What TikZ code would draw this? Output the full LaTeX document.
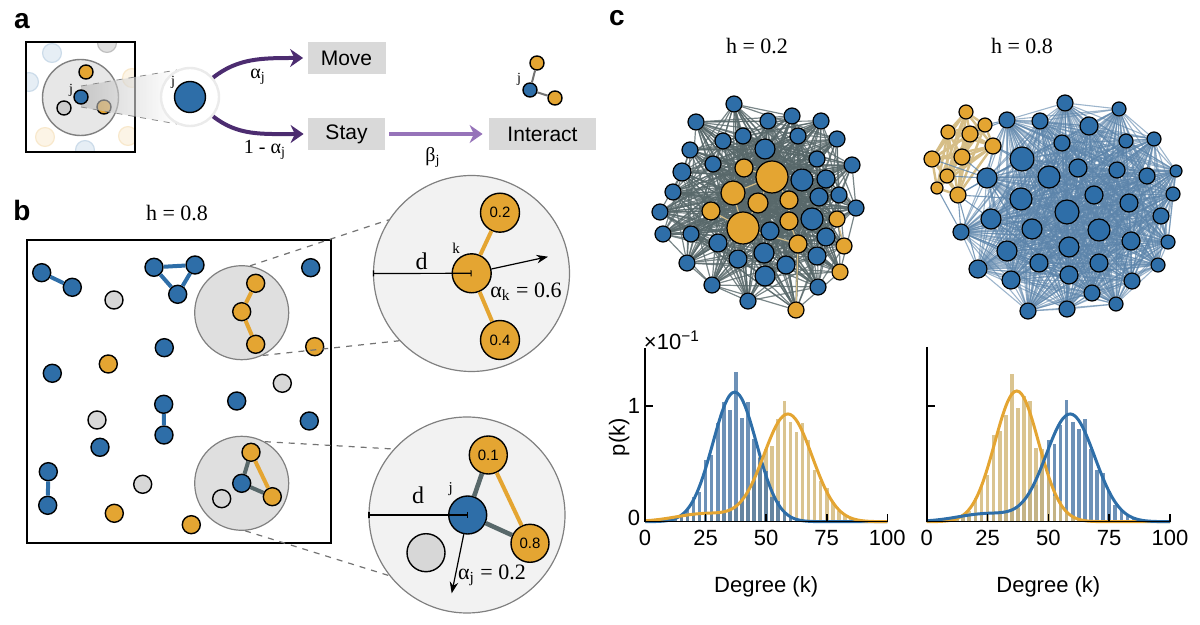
\documentclass[tikz,border=0pt]{standalone}
\usepackage{fontspec}
\setmainfont{Liberation Serif}
\setsansfont{Liberation Sans}
\usepackage{tikz}
\usetikzlibrary{arrows.meta,positioning,calc,backgrounds}

\definecolor{nblue}{RGB}{46,110,168}
\definecolor{norange}{RGB}{228,165,50}
\definecolor{ngray}{RGB}{215,215,215}
\definecolor{mvpurple}{RGB}{76,44,112}
\definecolor{itpurple}{RGB}{150,115,185}
\definecolor{boxgray}{RGB}{217,217,217}
\definecolor{edgedark}{RGB}{88,104,106}
\definecolor{edgetan}{RGB}{214,190,135}
\definecolor{edgesteel}{RGB}{92,132,170}
\definecolor{barblue}{RGB}{72,118,165}
\definecolor{bartan}{RGB}{212,186,125}

\begin{document}
\begin{tikzpicture}[
  x=0.5pt, y=-0.5pt,
  >=Stealth,
  agent/.style={circle, draw=black, line width=0.7pt, inner sep=0pt, minimum size=9pt},
  bag/.style={agent, fill=nblue},
  oag/.style={agent, fill=norange},
  gag/.style={agent, fill=ngray},
  panel/.style={font=\sffamily\bfseries\fontsize{14}{16}\selectfont},
  statebox/.style={fill=boxgray, minimum height=16pt, inner sep=0pt,
                   font=\sffamily\fontsize{10.5}{12}\selectfont},
  mvarrow/.style={draw=mvpurple, line width=2pt, -{Stealth[length=6.5pt,width=9pt]}},
  rate/.style={font=\fontsize{10}{12}\selectfont},
  tiny/.style={font=\fontsize{7}{8}\selectfont, inner sep=0pt},
  title/.style={font=\fontsize{11}{13}\selectfont},
  nbhd/.style={circle, fill=ngray!80, draw=black!50, line width=0.6pt, minimum size=47pt, inner sep=0pt},
  zoomc/.style={circle, fill=black!5, draw=black!50, line width=0.6pt, minimum size=98pt, inner sep=0pt},
  zoomlink/.style={draw=black!55, dashed, line width=0.6pt},
  bond/.style={line width=2pt},
  dline/.style={line width=0.6pt, {Bar[width=3pt]}-{Bar[width=3pt]}},
  numlab/.style={font=\sffamily\fontsize{7.5}{9}\selectfont},
  netedge/.style={draw=edgedark, line width=0.6pt, opacity=0.8},
  steeledge/.style={draw=edgesteel, line width=0.55pt, opacity=0.6},
  tanedge/.style={draw=edgetan, line width=1.2pt},
  axisln/.style={line width=0.8pt},
  ticklab/.style={font=\sffamily\fontsize{11}{13}\selectfont, inner sep=0pt},
  hcurveb/.style={draw=nblue, line width=1.5pt},
  hcurveo/.style={draw=norange, line width=1.5pt}
]
\useasboundingbox (0,0) rectangle (1200,625);

% ---------------- panel a
\node[panel] (la) at (22,21) {a};
\begin{scope}
  \clip (26,42) rectangle (135,152);
  \foreach \fx/\fy/\fc in {52/53/nblue, 29/82/nblue, 107/43/black, 132/78/norange,
                           45/137/norange, 85/150/nblue, 128/136/norange}
    \node[circle, minimum size=8pt, fill=\fc!12, draw=\fc!25, line width=0.6pt] (fd\fx) at (\fx,\fy) {};
\end{scope}
\draw[line width=0.8pt] (26,42) rectangle (135,152);
\node[circle, fill=ngray!60, draw=black!50, line width=0.7pt, minimum size=38pt] (nbh) at (80.5,97.5) {};
\node[oag, minimum size=7pt] (na1) at (86,72) {};
\node[agent, fill=black!20, minimum size=7pt] (na2) at (64,108) {};
\node[oag, minimum size=7pt] (na3) at (104,107) {};
\shade[left color=black!30, right color=white, opacity=0.6]
  (81,86) -- (177,70) -- (177,124) -- (81,107) -- cycle;
\draw[zoomlink, draw=black!45, line width=0.4pt] (81,86) -- (177,70) (81,107) -- (177,124);
\node[bag, minimum size=7pt] (ja) at (81,97) {};
\node[tiny] (jal) at (71,90) {j};
\node[circle, fill=white, draw=black!8, line width=1.2pt, minimum size=29pt] (halo) at (190,97) {};
\node[bag, minimum size=15.5pt] (jbig) at (190,97) {};
\node[tiny] (jbl) at (173,82) {j};

\node[statebox, minimum width=39pt] (mv) at (346.5,58) {Move};
\node[statebox, minimum width=38.5pt] (st) at (346.5,134) {Stay};
\node[statebox, minimum width=53.5pt] (ia) at (542.5,134) {Interact};
\draw[mvarrow, shorten >=2pt] (halo.40) .. controls (238,58) and (262,58) .. (mv.west);
\draw[mvarrow, shorten >=2pt] (halo.320) .. controls (238,136) and (262,134) .. (st.west);
\draw[mvarrow, draw=itpurple, shorten <=2pt, shorten >=3pt] (st) -- (ia);
\node[rate] (ra) at (258,77) {α\textsubscript{j}};
\node[rate] (rb) at (265,150) {1 - α\textsubscript{j}};
\node[rate] (rc) at (433,157) {β\textsubscript{j}};

\node[oag, minimum size=7pt] (i1) at (537,63) {};
\node[bag, minimum size=7pt] (i2) at (530,90) {};
\node[oag, minimum size=7pt] (i3) at (555,98) {};
\draw[draw=black!55, line width=1pt] (i1) -- (i2) -- (i3);
\node[tiny] (il) at (519,79) {j};

% ---------------- panel b
\node[panel] (lb) at (22,210) {b};
\node[title] (hb) at (177,213) {h = 0.8};
\draw[line width=0.8pt] (27,240) rectangle (331,543);
\node[nbhd] (gc1) at (241.7,312.7) {};
\node[nbhd] (gc2) at (241.7,483.3) {};

\foreach \nn/\nx/\ny/\ns in {b1/41.7/272.7/bag, b2/72.3/287.3/bag, b3/114/300/gag,
    b4/154/267.3/bag, b5/195/265/bag, b6/177.7/294.3/bag, b7/310.7/267.7/bag,
    b8/314.7/346.7/oag, b9/164.3/347.7/bag, b10/108.3/364/oag, b11/52.3/373.3/bag,
    b12/282.3/383.3/gag, b13/236.7/401/bag, b14/309.3/421/bag, b15/163.7/404.3/bag,
    b16/164/435/bag, b17/97/420/gag, b18/100/447.3/bag, b19/48.3/471.7/bag,
    b20/47.7/505.3/bag, b21/142.7/484.3/gag, b22/114.3/513.3/oag, b23/191.3/524.7/oag,
    c1/255.7/283.3/oag, c2/241.7/311.7/oag, c3/255.7/344.3/oag,
    d1/251/452.3/oag, d2/241.7/483.3/bag, d3/272.3/496.7/oag, d4/221.7/498.7/gag}
  \node[\ns] (\nn) at (\nx,\ny) {};

\foreach \u/\v in {b1/b2, b4/b5, b5/b6, b6/b4, b15/b16, b19/b20}
  \draw[bond, nblue] (\u) -- (\v);
\draw[bond, norange] (c1) -- (c2) -- (c3);
\draw[bond, norange] (d1) -- (d3);
\draw[bond, edgedark] (d2) -- (d1) (d2) -- (d3);

\node[zoomc] (zc1) at (471.5,273.5) {};
\node[zoomc] (zc2) at (467,515) {};
\draw[zoomlink] (gc1.80) -- (zc1.147);
\draw[zoomlink] (gc1.296) -- (zc1.223);
\draw[zoomlink] (gc2.61) -- (zc2.138);
\draw[zoomlink] (gc2.274) -- (zc2.218);

% zoom on k
\node[oag, minimum size=19.5pt] (kc) at (471.7,273.3) {};
\node[oag, minimum size=19.5pt, numlab] (k1) at (500,212.7) {0.2};
\node[oag, minimum size=19.5pt, numlab] (k2) at (500,340) {0.4};
\draw[bond, norange] (kc) -- (k1) (kc) -- (k2);
\draw[dline] (zc1.west) -- (kc.center);
\node[font=\fontsize{12}{14}\selectfont] (dk) at (421.7,261) {d};
\node[tiny, font=\fontsize{7.5}{9}\selectfont] (kl) at (456,248) {k};
\coordinate (kv) at (548,256.7);
\draw[->, line width=0.6pt] (kc) -- (kv);
\node[font=\fontsize{11}{13}\selectfont] (ak) at (526,292) {α\textsubscript{k} = 0.6};

% zoom on j
\node[bag, minimum size=19pt] (jc) at (467.7,515) {};
\node[oag, minimum size=19pt, numlab] (j1) at (488.3,455) {0.1};
\node[oag, minimum size=19pt, numlab] (j2) at (530,543.3) {0.8};
\node[gag, minimum size=19pt] (j3) at (426,552.7) {};
\draw[bond, edgedark, line width=2.3pt] (jc) -- (j1) (jc) -- (j2);
\draw[bond, norange] (j1) -- (j2);
\draw[dline] (zc2.west) -- (jc.center);
\node[font=\fontsize{12}{14}\selectfont] (dj) at (418,495) {d};
\node[tiny, font=\fontsize{7.5}{9}\selectfont] (jl) at (450.7,489) {j};
\coordinate (jv) at (451.7,593.3);
\draw[->, line width=0.6pt] (jc) -- (jv);
\node[font=\fontsize{11}{13}\selectfont] (aj) at (492,575) {α\textsubscript{j} = 0.2};

% ---------------- panel c
\node[panel] (lc) at (617,18) {c};
\node[title] (hc1) at (757,46) {h = 0.2};
\node[title] (hc2) at (1022,46) {h = 0.8};

% network, h = 0.2
\foreach [count=\n] \nx/\ny/\nr/\ns in {
    734/104/8/bag, 696/122/8/bag, 768/121/8/bag, 792/116/8/bag, 821/121/8/bag,
    723/141/8/bag, 743/136/8/bag, 765/149/10/bag, 798/136/8/bag, 690/150/8/bag,
    713/164/8/bag, 817/159/8/bag, 837/139/8/bag, 852/165/8/bag, 744/168/9/oag,
    772/177/16/oag, 682/172/9/bag, 802/180/11/bag, 826/179/9/bag, 673/192/8/bag,
    733/193/12/oag, 758/203/10/oag, 789/200/9/oag, 819/197/9/bag, 839/195/8/bag,
    856/208/8/bag, 660/212/8/bag, 711/211/9/oag, 743/228/16/oag, 789/221/9/oag,
    812/219/11/bag, 837/219/8/oag, 663/234/8/bag, 691/234/8/bag, 770/231/9/bag,
    798/244/9/oag, 718/243/9/bag, 826/237/9/bag, 844/246/8/oag, 687/263/8/bag,
    738/259/9/bag, 764/253/10/bag, 786/265/9/bag, 817/256/9/bag, 840/272/8/oag,
    765/276/10/bag, 712/285/8/bag, 818/287/8/bag, 748/301/8/bag, 796/310/8/oag}
  \node[\ns, minimum size=\nr pt, line width=0.6pt] (L\n) at (\nx,\ny) {};

\begin{scope}[on background layer]
  \foreach \i in {1,...,49}{
    \pgfmathtruncatemacro\jn{\i+1}
    \foreach \j in {\jn,...,50}{
      \pgfmathtruncatemacro\hh{mod(\i*7+\j*11+\i*\j*3,9)}
      \ifnum\hh<3 \draw[netedge] (L\i) -- (L\j);\fi
    }
  }
  \foreach \h in {16,29,21,18,22,8}
    \foreach \i in {1,...,50}{
      \ifnum\i=\h\else \draw[netedge] (L\h) -- (L\i);\fi
    }
  \foreach \u/\v in {15/16, 16/21, 21/29, 22/29, 23/30, 16/23, 28/29, 30/36, 29/36, 32/39, 36/50, 22/16}
    \draw[tanedge, line width=0.6pt] (L\u) -- (L\v);
\end{scope}

% network, h = 0.8
\foreach [count=\n] \nx/\ny/\nr in {966/112/7, 985/125/7, 948/132/7, 970/134/8, 993/146/8,
    932/159/8, 962/157/8, 947/176/7, 937/188/6, 958/195/8}
  \node[oag, minimum size=\nr pt, line width=0.6pt] (RO\n) at (\nx,\ny) {};
\foreach [count=\n] \nx/\ny/\nr in {
    1065/103/8, 1119/109/7, 1007/120/8, 1040/121/8, 1089/126/9, 1062/143/8, 1126/141/7,
    1154/139/7, 1022/159/12, 1078/168/9, 1117/170/8, 1176/171/6, 1049/177/11, 1147/176/8,
    987/178/10, 1021/199/11, 1094/195/9, 1129/203/9, 1173/194/7, 1067/212/12, 991/219/10,
    1161/216/8, 1032/229/10, 1099/230/11, 961/232/8, 1131/241/9, 1168/242/7, 1007/251/10,
    1069/247/10, 1039/263/9, 1099/263/9, 1158/265/7, 978/269/9, 1011/280/9, 1069/275/9,
    1132/281/8, 1092/293/8, 1116/304/7, 1028/311/8, 1067/309/8}
  \node[bag, minimum size=\nr pt, line width=0.6pt] (RB\n) at (\nx,\ny) {};

\begin{scope}[on background layer]
  \foreach \i in {1,...,39}{
    \pgfmathtruncatemacro\jn{\i+1}
    \foreach \j in {\jn,...,40}{
      \draw[steeledge] (RB\i) -- (RB\j);
    }
  }
  \foreach \i in {1,...,9}{
    \pgfmathtruncatemacro\jn{\i+1}
    \foreach \j in {\jn,...,10}{
      \draw[tanedge] (RO\i) -- (RO\j);
    }
  }
  \foreach \u/\v in {5/15, 5/3, 5/9, 10/15, 10/21, 10/25, 10/9, 7/15, 8/15, 4/3,
                     2/3, 6/15, 9/25, 10/33, 5/13, 10/16}
    \draw[steeledge, opacity=0.8] (RO\u) -- (RB\v);
\end{scope}

% histogram, h = 0.2
\begin{scope}[shift={(645,521.7)}, xscale=2.423, yscale=-115.7]
  \foreach \bi in {1,...,38}{
    \pgfmathsetmacro\xc{2.5*\bi}
    \pgfmathsetmacro\ho{(0.93*exp(-(\xc-59)*(\xc-59)/200)+0.07*exp(-(\xc-25)*(\xc-25)/288))*(1+0.14*sin(97*\bi+40))}
    \pgfmathsetmacro\hbl{1.12*exp(-(\xc-37)*(\xc-37)/162)*(1+0.16*sin(151*\bi))}
    \fill[bartan, opacity=0.85] (\xc-0.75,0) rectangle (\xc+0.75,\ho);
    \fill[barblue, opacity=0.8] (\xc-0.75,0) rectangle (\xc+0.75,\hbl);
  }
  \draw[hcurveb] plot[domain=0:100, samples=101, smooth] (\x,{1.12*exp(-(\x-37)*(\x-37)/162)});
  \draw[hcurveo] plot[domain=0:100, samples=101, smooth]
    (\x,{0.93*exp(-(\x-59)*(\x-59)/200)+0.07*exp(-(\x-25)*(\x-25)/288)});
  \draw[axisln] (0,1.5) -- (0,0) -- (100,0);
  \foreach \t in {25,50,75,100} \draw[axisln] (\t,0) -- (\t,0.07);
  \draw[axisln] (0,1) -- (3.3,1);
  \foreach \t in {0,25,50,75,100} \node[ticklab] (tl\t) at (\t,-0.14) {\t};
  \node[ticklab] (yl1) at (-4.5,1) {1};
  \node[ticklab] (yl0) at (-4.5,0.03) {0};
  \node[ticklab, anchor=west] (ex) at (-0.6,1.57) {×10\textsuperscript{−1}};
  \node[ticklab, rotate=90] (pk) at (-10.7,0.73) {p(k)};
  \node[ticklab] (dg1) at (50,-0.56) {Degree (k)};
\end{scope}

% histogram, h = 0.8
\begin{scope}[shift={(926.7,521.7)}, xscale=2.433, yscale=-115.7]
  \foreach \bi in {1,...,38}{
    \pgfmathsetmacro\xc{2.5*\bi}
    \pgfmathsetmacro\hbl{(0.93*exp(-(\xc-59)*(\xc-59)/200)+0.07*exp(-(\xc-25)*(\xc-25)/288))*(1+0.14*sin(113*\bi+20))}
    \pgfmathsetmacro\ho{1.13*exp(-(\xc-37)*(\xc-37)/162)*(1+0.16*sin(131*\bi+70))}
    \fill[barblue, opacity=0.8] (\xc-0.75,0) rectangle (\xc+0.75,\hbl);
    \fill[bartan, opacity=0.85] (\xc-0.75,0) rectangle (\xc+0.75,\ho);
  }
  \draw[hcurveo] plot[domain=0:100, samples=101, smooth] (\x,{1.13*exp(-(\x-37)*(\x-37)/162)});
  \draw[hcurveb] plot[domain=0:100, samples=101, smooth]
    (\x,{0.93*exp(-(\x-59)*(\x-59)/200)+0.07*exp(-(\x-25)*(\x-25)/288)});
  \draw[axisln] (0,1.51) -- (0,0) -- (100,0);
  \foreach \t in {25,50,75,100} \draw[axisln] (\t,0) -- (\t,0.07);
  \draw[axisln] (0,1) -- (3.3,1);
  \foreach \t in {0,25,50,75,100} \node[ticklab] (tr\t) at (\t,-0.14) {\t};
  \node[ticklab] (dg2) at (50,-0.56) {Degree (k)};
\end{scope}
\end{tikzpicture}
\end{document}
